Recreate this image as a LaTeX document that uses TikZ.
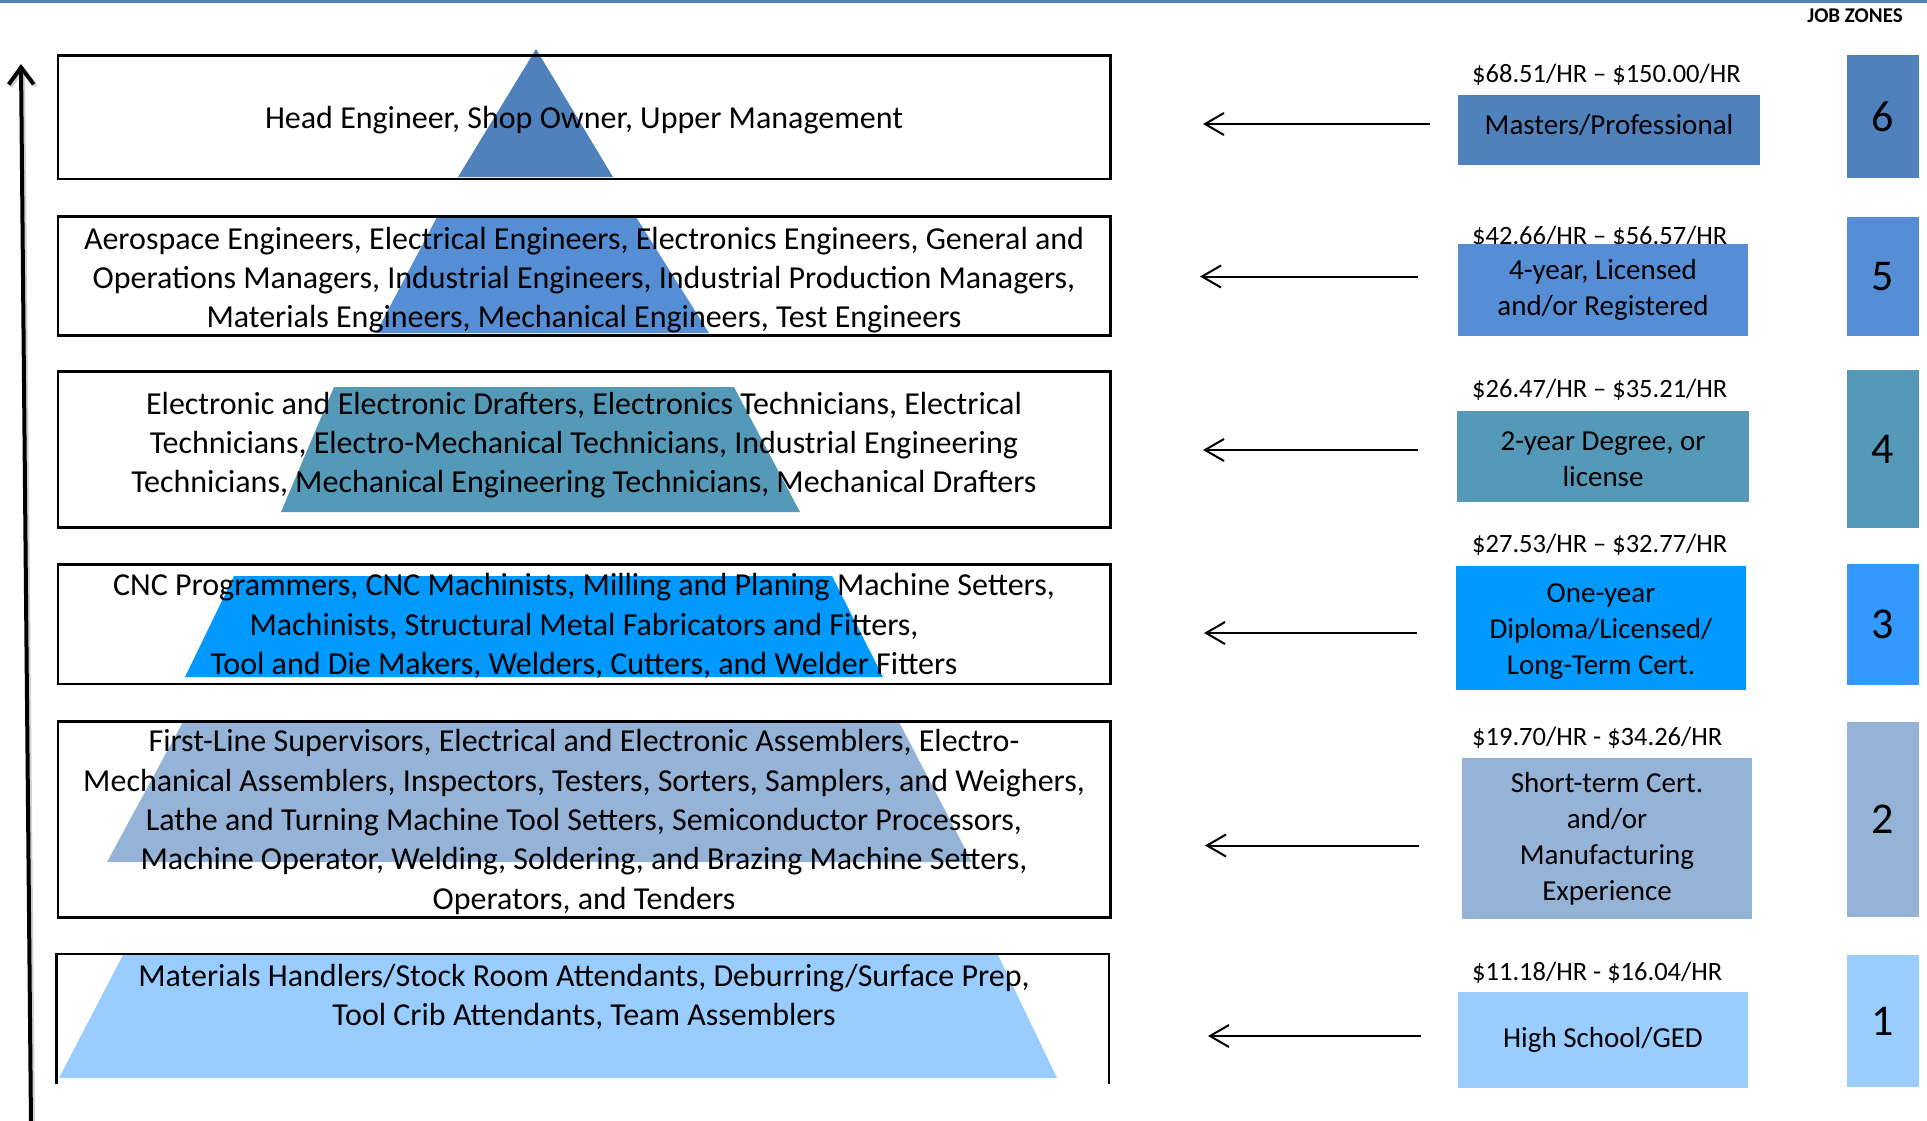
\documentclass[tikz,border=0pt]{standalone}
\usepackage{fontspec}
\setmainfont{Carlito}
\usetikzlibrary{arrows.meta}
\definecolor{cA}{HTML}{4F81BD}
\definecolor{cB}{HTML}{558ED5}
\definecolor{cC}{HTML}{5599B9}
\definecolor{cD}{HTML}{0099FF}
\definecolor{cDz}{HTML}{3399FF}
\definecolor{cE}{HTML}{95B3D7}
\definecolor{cF}{HTML}{99CCFF}
\begin{document}
\begin{tikzpicture}[x=1pt,y=-1pt,
  jobbox/.style={draw=black, line width=2.5pt, anchor=north west, inner sep=0pt, minimum width=1052.5pt},
  jobtext/.style={align=center, font=\fontsize{32}{39.3}\selectfont, inner sep=0pt},
  edubox/.style={align=center, inner sep=0pt, font=\fontsize{29}{36}\selectfont},
  edutext/.style={align=center, inner sep=0pt, font=\fontsize{29}{36}\selectfont},
  salary/.style={anchor=base west, font=\fontsize{26.5}{32}\selectfont, inner sep=0pt},
  zonebox/.style={inner sep=0pt, minimum width=72pt, font=\fontsize{44}{52}\selectfont},
  levelarrow/.style={line width=2pt, -{Straight Barb[length=19pt,width=22pt]}},
]
\useasboundingbox (0,0) rectangle (1927,1120);
% top rule
\fill[cA] (0,0) rectangle (1927,3);

% pyramid slices
\fill[cA] (536,49) -- (613,177) -- (458,177) -- cycle;
\fill[cB] (437,217) -- (636,217) -- (709,333) -- (376,333) -- cycle;
\fill[cC] (334,387) -- (734,387) -- (800,512) -- (281,512) -- cycle;
\fill[cD] (234,576) -- (832,576) -- (883,677) -- (185,677) -- cycle;
\fill[cE] (184,720) -- (898,720) -- (972,862) -- (107,862) -- cycle;
\fill[cF] (123,955) -- (998,955) -- (1057,1078) -- (59,1078) -- cycle;

% job boxes
\node[jobbox, minimum height=123.5pt] (j6) at (56.5,54) {};
\node[jobbox, minimum height=119pt] (j5) at (56.5,215) {};
\node[jobbox, minimum height=156pt] (j4) at (56.5,370) {};
\node[jobbox, minimum height=119.5pt] (j3) at (56.5,563) {};
\node[jobbox, minimum height=196pt] (j2) at (56.5,720) {};
\draw[line width=2.5pt] (56.5,1084) -- (56.5,954) -- (1109,954) -- (1109,1084);

% job texts
\node[jobtext] (t6) at (584,120) {Head Engineer, Shop Owner, Upper Management};
\node[jobtext] (t5) at (584,280) {Aerospace Engineers, Electrical Engineers, Electronics Engineers, General and\\Operations Managers, Industrial Engineers, Industrial Production Managers,\\Materials Engineers, Mechanical Engineers, Test Engineers};
\node[jobtext] (t4) at (584,445) {Electronic and Electronic Drafters, Electronics Technicians, Electrical\\Technicians, Electro-Mechanical Technicians, Industrial Engineering\\Technicians, Mechanical Engineering Technicians, Mechanical Drafters};
\node[jobtext] (t3) at (584,626) {CNC Programmers, CNC Machinists, Milling and Planing Machine Setters,\\Machinists, Structural Metal Fabricators and Fitters,\\Tool and Die Makers, Welders, Cutters, and Welder Fitters};
\node[jobtext] (t2) at (584,822) {First-Line Supervisors, Electrical and Electronic Assemblers, Electro-\\Mechanical Assemblers, Inspectors, Testers, Sorters, Samplers, and Weighers,\\Lathe and Turning Machine Tool Setters, Semiconductor Processors,\\Machine Operator, Welding, Soldering, and Brazing Machine Setters,\\Operators, and Tenders};
\node[jobtext] (t1) at (584,997) {Materials Handlers/Stock Room Attendants, Deburring/Surface Prep,\\Tool Crib Attendants, Team Assemblers};

% salaries
\node[salary] (s6) at (1472,82) {\$68.51/HR -- \$150.00/HR};
\node[salary] (s5) at (1472,244) {\$42.66/HR -- \$56.57/HR};
\node[salary] (s4) at (1472,397) {\$26.47/HR -- \$35.21/HR};
\node[salary] (s3) at (1472,552.5) {\$27.53/HR -- \$32.77/HR};
\node[salary] (s2) at (1472,745.5) {\$19.70/HR - \$34.26/HR};
\node[salary] (s1) at (1472,980) {\$11.18/HR - \$16.04/HR};

% education boxes
\node[edubox, fill=cA, minimum width=302pt, minimum height=70pt] (e6) at (1609,130) {};
\node[edutext] at ([yshift=5pt]e6.center) {Masters/Professional};
\node[edubox, fill=cB, minimum width=290pt, minimum height=92pt] (e5) at (1603,290) {4-year, Licensed\\and/or Registered};
\node[edubox, fill=cC, minimum width=292pt, minimum height=91pt] (e4) at (1603,456.5) {};
\node[edutext] at ([yshift=-2.5pt]e4.center) {2-year Degree, or\\license};
\node[edubox, fill=cD, minimum width=290pt, minimum height=124pt] (e3) at (1601,628) {};
\node[edutext] at ([yshift=-3.5pt]e3.center) {One-year\\Diploma/Licensed/\\Long-Term Cert.};
\node[edubox, fill=cE, minimum width=290pt, minimum height=161pt] (e2) at (1607,838.5) {Short-term Cert.\\and/or\\Manufacturing\\Experience};
\node[edubox, fill=cF, minimum width=290pt, minimum height=96pt] (e1) at (1603,1040) {High School/GED};

% zone boxes
\node[font=\bfseries\fontsize{21}{25}\selectfont, inner sep=0pt] (jz) at (1855,15.6) {JOB ZONES};
\node[zonebox, fill=cA, minimum height=123pt] (z6) at (1883,116.5) {6};
\node[zonebox, fill=cB, minimum height=119pt] (z5) at (1883,276.5) {5};
\node[zonebox, fill=cC, minimum height=158pt] (z4) at (1883,449) {4};
\node[zonebox, fill=cDz, minimum height=121pt] (z3) at (1883,624.5) {3};
\node[zonebox, fill=cE, minimum height=195pt] (z2) at (1883,819.5) {2};
\node[zonebox, fill=cF, minimum height=132pt] (z1) at (1883,1021) {1};

% arrows
\coordinate (a6s) at (1430,124);   \coordinate (a6e) at (1203,124);
\coordinate (a5s) at (1418,276.5); \coordinate (a5e) at (1200,276.5);
\coordinate (a4s) at (1418,450);   \coordinate (a4e) at (1203,450);
\coordinate (a3s) at (1417,633);   \coordinate (a3e) at (1204,633);
\coordinate (a2s) at (1419,845.5); \coordinate (a2e) at (1205,845.5);
\coordinate (a1s) at (1421,1036);  \coordinate (a1e) at (1208,1036);
\foreach \i in {1,...,6} { \draw[levelarrow] (a\i s) -- (a\i e); }

% level arrow on the left
\coordinate (lvlB) at (31,1124);
\coordinate (lvlT) at (21,64);
\draw[line width=4pt, black!18, -{Straight Barb[length=17pt,width=25pt]}] ([shift={(2,2)}]lvlB) -- ([shift={(2,2)}]lvlT);
\draw[line width=4pt, -{Straight Barb[length=17pt,width=25pt]}] (lvlB) -- (lvlT);
\end{tikzpicture}
\end{document}
